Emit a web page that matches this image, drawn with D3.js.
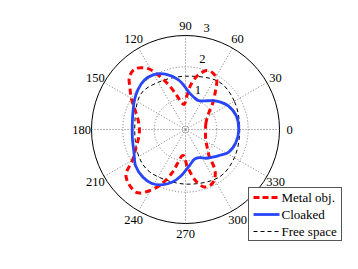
<!DOCTYPE html>
<html>
<head>
<meta charset="utf-8">
<script src="https://cdn.jsdelivr.net/npm/d3@7"></script>
<style>
  body { margin: 0; background: #fff; }
  text { font-family: "Liberation Serif", "Times New Roman", serif; }
</style>
</head>
<body>
<main></main>
<script>
// polar pattern, angles in degrees (counter clockwise from the right)
var radialTicks = [1, 2, 3]
var angleTicks = [0, 30, 60, 90, 120, 150, 180, 210, 240, 270, 300, 330]

var metalAngles = [0, 15, 28, 38, 45, 52, 58, 64, 70, 77, 83, 88, 93, 98, 104, 110, 116, 122, 130, 137, 143, 150, 158, 168, 180,
                   190, 200, 210, 217, 223, 232, 236, 245, 253, 257, 263, 267, 272, 275, 281, 288, 294, 300, 306, 312, 318, 328, 340]
var metalR = [0.64, 0.67, 0.78, 0.98, 1.25, 1.55, 1.88, 2.0, 2.0, 1.78, 1.45, 1.05, 0.8, 0.85, 1.1, 1.48, 1.9, 2.3, 2.52, 2.45, 2.22, 2.0, 1.75, 1.55, 1.47,
              1.52, 1.68, 1.95, 2.38, 2.5, 2.55, 2.43, 1.98, 1.43, 1.1, 0.84, 0.85, 1.15, 1.3, 1.66, 1.93, 1.95, 1.85, 1.6, 1.12, 0.95, 0.78, 0.68]

var cloakAngles = [0, 15, 29, 38, 47, 56, 66, 76, 85, 92, 98, 110, 120, 130, 140, 150, 160, 170, 180,
                   190, 204, 216, 228, 238, 248, 256, 264, 270, 278, 287, 296, 305, 314, 322, 332, 345]
var cloakR = [1.70, 1.68, 1.56, 1.42, 1.26, 1.1, 1.01, 1.07, 1.2, 1.4, 1.6, 1.88, 2.02, 2.05, 1.98, 1.88, 1.78, 1.72, 1.70,
              1.72, 1.8, 1.97, 2.04, 2.03, 1.9, 1.73, 1.5, 1.31, 1.12, 0.99, 1.0, 1.12, 1.23, 1.35, 1.55, 1.66]

var freeAngles = [0, 30, 55, 90, 120, 142, 180, 210, 230, 268, 305, 330]
var freeR = [1.73, 1.8, 1.86, 1.70, 1.74, 1.82, 1.62, 1.72, 1.77, 1.74, 1.86, 1.8]

var legendNames = ["Metal obj.", "Cloaked", "Free space"]

var cx = 185.5, cy = 129.5, R = 94

var svg = d3.select("main")
    .append("svg")
    .attr("width", 358)
    .attr("height", 269)

var r = d3.scaleLinear()
    .domain([0, 3])
    .range([0, R])

function rad(deg) { return (90 - deg) * Math.PI / 180 }

var plot = svg.append("g")
    .attr("transform", "translate(" + cx + "," + cy + ")")

// spokes
plot.selectAll(".spoke").data(angleTicks)
    .enter().append("line")
        .attr("x1", 0).attr("y1", 0)
        .attr("x2", d => r(3) * Math.cos(d * Math.PI / 180))
        .attr("y2", d => -r(3) * Math.sin(d * Math.PI / 180))
        .attr("stroke", "#777")
        .attr("stroke-dasharray", "1,2")

// rings
plot.selectAll(".ring").data(radialTicks.slice(0, 2))
    .enter().append("circle")
        .attr("r", d => r(d))
        .attr("fill", "none")
        .attr("stroke", "#777")
        .attr("stroke-dasharray", "1,2")

plot.append("circle")
    .attr("r", 3)
    .attr("fill", "none")
    .attr("stroke", "#999")
    .attr("stroke-dasharray", "1,1.5")

plot.append("circle")
    .attr("r", r(3))
    .attr("fill", "none")
    .attr("stroke", "#000")

// radial tick labels along 82 deg
plot.selectAll(".rlab").data(radialTicks)
    .enter().append("text")
        .attr("x", d => r(d) * Math.cos(82 * Math.PI / 180) + 5)
        .attr("y", d => -r(d) * Math.sin(82 * Math.PI / 180) - 4)
        .attr("font-size", "12.5px")
        .text(d => d)

// angle labels
plot.selectAll(".alab").data(angleTicks)
    .enter().append("text")
        .attr("x", d => 104 * Math.cos(d * Math.PI / 180))
        .attr("y", d => -104 * Math.sin(d * Math.PI / 180))
        .attr("text-anchor", "middle")
        .attr("dominant-baseline", "central")
        .attr("font-size", "12.5px")
        .text(d => d)

var line = d3.lineRadial()
    .angle(d => rad(d[0]))
    .radius(d => r(d[1]))
    .curve(d3.curveCatmullRomClosed.alpha(0.5))

plot.append("path")
    .datum(d3.zip(freeAngles, freeR))
    .attr("d", line)
    .attr("fill", "none")
    .attr("stroke", "#000")
    .attr("stroke-width", 1)
    .attr("stroke-dasharray", "4,3")

plot.append("path")
    .datum(d3.zip(metalAngles, metalR))
    .attr("d", line)
    .attr("fill", "none")
    .attr("stroke", "#ff0000")
    .attr("stroke-width", 3)
    .attr("stroke-dasharray", "6,4")

plot.append("path")
    .datum(d3.zip(cloakAngles, cloakR))
    .attr("d", line)
    .attr("fill", "none")
    .attr("stroke", "#2846f8")
    .attr("stroke-width", 2.8)

// legend
var styles = [
    {color: "#ff0000", width: 3, dash: "6,3"},
    {color: "#2846f8", width: 2.8, dash: null},
    {color: "#000", width: 1, dash: "4,3"}
]

var legend = svg.append("g")
    .attr("transform", "translate(248.5,187.5)")

legend.append("rect")
    .attr("width", 93)
    .attr("height", 53)
    .attr("fill", "#fff")
    .attr("stroke", "#555")

var items = legend.selectAll(".item").data(legendNames)
    .enter().append("g")
        .attr("transform", (d, i) => "translate(0," + (10 + i * 17) + ")")

items.append("line")
    .attr("x1", 5).attr("x2", 31)
    .attr("stroke", (d, i) => styles[i].color)
    .attr("stroke-width", (d, i) => styles[i].width)
    .attr("stroke-dasharray", (d, i) => styles[i].dash)

items.append("text")
    .attr("x", 33)
    .attr("dominant-baseline", "central")
    .attr("font-size", "13px")
    .text(d => d)
</script>
</body>
</html>
